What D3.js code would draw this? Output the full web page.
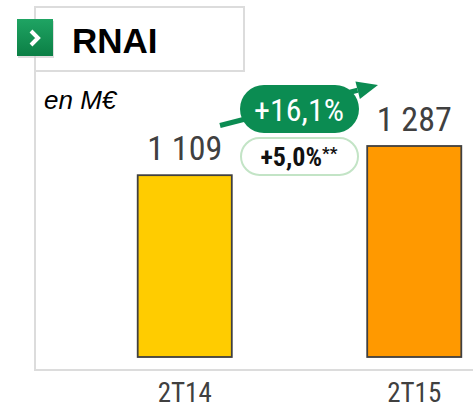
<!DOCTYPE html>
<html>
<head>
<meta charset="utf-8">
<script src="https://cdn.jsdelivr.net/npm/d3@7"></script>
<style>
  body { margin: 0; background: #fff; }
  .narrow { font-family: "Liberation Sans Narrow", "Roboto Condensed", Roboto, sans-serif; }
</style>
</head>
<body>
<svg id="chart"></svg>
<script>
var width = 473,
    height = 406;

// data
var periods = ["2T14", "2T15"];
var values = [1109, 1287];
var valueLabels = ["1 109", "1 287"];
var barColors = ["#ffcc00", "#ff9900"];
var growthLabel = "+16,1%";
var organicLabel = "+5,0%";

var svg = d3.select("#chart")
    .attr("width", width)
    .attr("height", height);

var x = d3.scaleBand()
    .domain(periods)
    .range([70, 529])
    .paddingInner(0.59)
    .paddingOuter(0.295);

var y = d3.scaleLinear()
    .domain([0, 1287])
    .range([357, 146]);

// frame lines
svg.append("line")
    .attr("x1", 35).attr("x2", 35)
    .attr("y1", 7).attr("y2", 371)
    .style("stroke", "#dcdcdc").style("stroke-width", 2);

svg.append("rect")
    .attr("x", 35).attr("y", 7)
    .attr("width", 209).attr("height", 64)
    .style("fill", "#fff")
    .style("stroke", "#dcdcdc").style("stroke-width", 2);

// green icon
var grad = svg.append("defs").append("linearGradient")
    .attr("id", "iconGrad").attr("x1", 0).attr("y1", 0).attr("x2", 0).attr("y2", 1);
grad.append("stop").attr("offset", "0%").attr("stop-color", "#1fa463");
grad.append("stop").attr("offset", "100%").attr("stop-color", "#0b7f45");

svg.append("rect")
    .attr("x", 18).attr("y", 21)
    .attr("width", 36).attr("height", 37)
    .style("fill", "#c8c8c8").style("opacity", 0.6);
svg.append("rect")
    .attr("x", 17).attr("y", 19)
    .attr("width", 36).attr("height", 37)
    .style("fill", "url(#iconGrad)");
svg.append("path")
    .attr("d", "M31,31 L38,38 L31,45")
    .style("fill", "none")
    .style("stroke", "#fff").style("stroke-width", 4)
    .style("stroke-linejoin", "miter");

svg.append("text")
    .attr("x", 72).attr("y", 53)
    .style("font-family", "'Liberation Sans', Arial, sans-serif")
    .style("font-weight", "bold")
    .style("font-size", "35px")
    .style("fill", "#000")
    .text("RNAI");

svg.append("text")
    .attr("x", 44).attr("y", 109)
    .style("font-family", "'Liberation Sans', Arial, sans-serif")
    .style("font-style", "italic")
    .style("font-size", "26px")
    .style("fill", "#000")
    .text("en M€");

// baseline
svg.append("line")
    .attr("x1", 34).attr("x2", width)
    .attr("y1", 370).attr("y2", 370)
    .style("stroke", "#dcdcdc").style("stroke-width", 2);

// bars
svg.selectAll("rect.bar")
    .data(values)
    .enter()
    .append("rect")
        .attr("class", "bar")
        .attr("x", function(d, i) { return x(periods[i]); })
        .attr("y", function(d) { return y(d); })
        .attr("width", x.bandwidth())
        .attr("height", function(d) { return y(0) - y(d); })
        .style("fill", function(d, i) { return barColors[i]; })
        .style("stroke", "#404040")
        .style("stroke-width", 1.8);

svg.selectAll("text.value")
    .data(values)
    .enter()
    .append("text")
        .attr("class", "value narrow")
        .attr("x", function(d, i) { return x(periods[i]) + x.bandwidth() / 2; })
        .attr("y", function(d) { return y(d) - 15; })
        .style("text-anchor", "middle")
        .style("font-size", "34px")
        .style("fill", "#404040")
        .text(function(d, i) { return valueLabels[i]; });

// x axis labels
var xAxis = svg.append("g")
    .attr("transform", "translate(0,370)")
    .call(d3.axisBottom(x).tickSize(0).tickPadding(32));
xAxis.select(".domain").remove();
xAxis.selectAll("text")
    .attr("class", "narrow")
    .attr("dy", "0")
    .style("font-size", "27px")
    .style("fill", "#404040");

// growth arrow
var ax0 = 220, ay0 = 125.5, ax1 = 378, ay1 = 85;
var ang = Math.atan2(ay1 - ay0, ax1 - ax0);
var headLen = 21, headHalf = 9;
var bx = ax1 - headLen * Math.cos(ang), by = ay1 - headLen * Math.sin(ang);
svg.append("line")
    .attr("x1", ax0).attr("y1", ay0)
    .attr("x2", bx).attr("y2", by)
    .style("stroke", "#0b8c52").style("stroke-width", 5);
svg.append("polygon")
    .attr("points", [
        [ax1, ay1],
        [bx - headHalf * Math.sin(ang), by + headHalf * Math.cos(ang)],
        [bx + headHalf * Math.sin(ang), by - headHalf * Math.cos(ang)]
    ].join(" "))
    .style("fill", "#0b8c52");

svg.append("rect")
    .attr("x", 240).attr("y", 85)
    .attr("width", 119).attr("height", 48)
    .attr("rx", 24)
    .style("fill", "#0b8c52");
svg.append("text")
    .attr("class", "narrow")
    .attr("x", 299).attr("y", 121)
    .style("text-anchor", "middle")
    .style("font-size", "32px")
    .style("fill", "#fff")
    .text(growthLabel);

svg.append("rect")
    .attr("x", 241).attr("y", 138)
    .attr("width", 117).attr("height", 37)
    .attr("rx", 18.5)
    .style("fill", "#fff")
    .style("stroke", "#c3e4c6").style("stroke-width", 2);
var t2 = svg.append("text")
    .attr("class", "narrow")
    .attr("x", 299).attr("y", 166)
    .style("text-anchor", "middle")
    .style("font-weight", "bold")
    .style("fill", "#111");
t2.append("tspan").style("font-size", "26px").text(organicLabel);
t2.append("tspan").style("font-size", "17px").attr("dy", -7).text("**");
</script>
</body>
</html>
